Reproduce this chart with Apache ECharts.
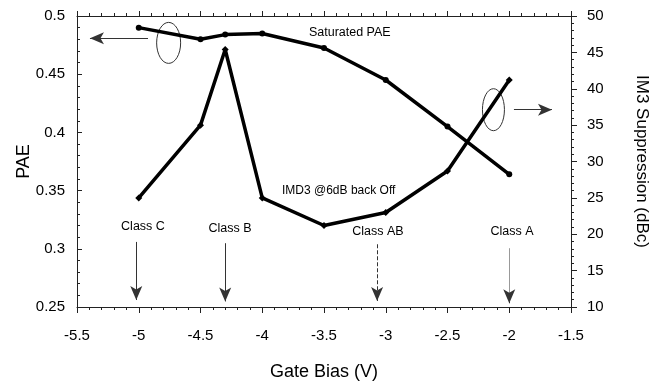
<!DOCTYPE html>
<html>
<head>
<meta charset="utf-8">
<script src="https://cdn.jsdelivr.net/npm/echarts@6/dist/echarts.min.js"></script>
<style>
  html, body { margin: 0; padding: 0; background: #fff; }
  #chart { width: 658px; height: 386px; }
</style>
</head>
<body>
<div id="chart"></div>
<script>
// Gate bias sweep (V)
const gateBias = [-5, -4.5, -4.3, -4, -3.5, -3, -2.5, -2];
// Saturated power-added efficiency (left axis)
const saturatedPAE = [0.490, 0.480, 0.484, 0.485, 0.4725, 0.445, 0.405, 0.364];
// IM3 suppression at 6 dB back-off, dBc (right axis)
const im3Suppression = [25.0, 35.0, 45.4, 25.0, 21.2, 23.0, 28.7, 41.2];

// Amplifier class markers along the bias axis
const classNames = ['Class C', 'Class B', 'Class AB', 'Class A'];
const classBias = [-5.02, -4.3, -3.07, -2.0];

const FONT = '"Liberation Sans", Arial, Helvetica, sans-serif';
const chart = echarts.init(document.getElementById('chart'), null, { renderer: 'canvas' });

const toPairs = (xs, ys) => xs.map((x, i) => [x, ys[i]]);

const axisLine = { show: true, lineStyle: { color: '#222', width: 1 } };

// arrow annotations (in PAE axis units)
const arrowLines = [
  // Class C, B, AB
  [{ coord: [classBias[0], 0.3059] }, { coord: [classBias[0], 0.2560] }],
  [{ coord: [classBias[1], 0.3048] }, { coord: [classBias[1], 0.2548] }],
  [{ coord: [classBias[2], 0.3039], lineStyle: { type: [4, 2] } }, { coord: [classBias[2], 0.2552] }],
  // Class A: grey shaft, dark head
  [{ coord: [classBias[3], 0.3005], symbol: 'none', lineStyle: { color: '#999' } }, { coord: [classBias[3], 0.2560], symbol: 'none' }],
  [{ coord: [classBias[3], 0.2600] }, { coord: [classBias[3], 0.2532] }],
  // series pointers
  [{ coord: [-4.925, 0.4809] }, { coord: [-5.395, 0.4809] }],
  [{ coord: [-1.962, 0.4195] }, { coord: [-1.654, 0.4195] }]
];

chart.setOption({
  animation: false,
  backgroundColor: '#fff',
  textStyle: { fontFamily: FONT },
  grid: { left: 77, right: 87, top: 16, bottom: 78 },
  xAxis: [
    {
      type: 'value', position: 'bottom', min: -5.5, max: -1.5, interval: 0.5,
      axisLine: axisLine,
      axisTick: { show: true, length: 6, lineStyle: { color: '#222' } },
      minorTick: { show: true, splitNumber: 5, length: 3, lineStyle: { color: '#222' } },
      splitLine: { show: false },
      axisLabel: { fontSize: 15, color: '#000', margin: 21, fontFamily: FONT },
      name: 'Gate Bias (V)', nameLocation: 'middle', nameGap: 56, nameMoveOverlap: false,
      nameTextStyle: { fontSize: 18, color: '#000', fontFamily: FONT }
    },
    {
      type: 'value', position: 'top', min: -5.5, max: -1.5, interval: 0.5,
      axisLine: axisLine,
      axisTick: { show: true, length: 5, lineStyle: { color: '#222' } },
      minorTick: { show: true, splitNumber: 5, length: 3, lineStyle: { color: '#222' } },
      splitLine: { show: false },
      axisLabel: { show: false }
    }
  ],
  yAxis: [
    {
      type: 'value', position: 'left', min: 0.25, max: 0.5, interval: 0.05,
      axisLine: axisLine,
      axisTick: { show: true, inside: true, length: 5, lineStyle: { color: '#222' } },
      minorTick: { show: true, splitNumber: 5, length: 3, lineStyle: { color: '#222' } },
      splitLine: { show: false },
      axisLabel: { fontSize: 15, color: '#000', margin: 12, fontFamily: FONT },
      name: 'PAE', nameLocation: 'middle', nameGap: 44, nameRotate: 90, nameMoveOverlap: false,
      nameTextStyle: { fontSize: 18, color: '#000', fontFamily: FONT }
    },
    {
      type: 'value', position: 'right', min: 10, max: 50, interval: 5,
      axisLine: axisLine,
      axisTick: { show: true, length: 6, lineStyle: { color: '#222' } },
      minorTick: { show: true, splitNumber: 5, length: 3, lineStyle: { color: '#222' } },
      splitLine: { show: false },
      axisLabel: { fontSize: 15, color: '#000', margin: 16, fontFamily: FONT },
      name: 'IM3 Suppression (dBc)', nameLocation: 'middle', nameGap: 62, nameRotate: -90, nameMoveOverlap: false,
      nameTextStyle: { fontSize: 17, color: '#000', fontFamily: FONT }
    }
  ],
  series: [
    {
      name: 'Saturated PAE', type: 'line', xAxisIndex: 0, yAxisIndex: 0,
      data: toPairs(gateBias, saturatedPAE),
      symbol: 'circle', symbolSize: 6,
      lineStyle: { color: '#000', width: 3.5 },
      itemStyle: { color: '#000' },
      markLine: {
        silent: true,
        symbol: ['none', 'arrow'], symbolSize: [9, 14],
        label: { show: false },
        lineStyle: { color: '#333', width: 1, type: 'solid' },
        data: arrowLines
      }
    },
    {
      name: 'IMD3 @6dB back Off', type: 'line', xAxisIndex: 0, yAxisIndex: 1,
      data: toPairs(gateBias, im3Suppression),
      symbol: 'diamond', symbolSize: 7,
      lineStyle: { color: '#000', width: 3.5 },
      itemStyle: { color: '#000' }
    }
  ]
});

// text and ellipse annotations, placed through the axes
function px(x, y) {
  return chart.convertToPixel({ xAxisIndex: 0, yAxisIndex: 0 }, [x, y]);
}
function label(text, x, y, align, size) {
  const p = px(x, y);
  return {
    type: 'text', x: p[0], y: p[1], silent: true,
    style: { text: text, font: size + 'px ' + FONT, fill: '#000', align: align, verticalAlign: 'middle' }
  };
}
function ellipse(x, y, rx, ry) {
  const p = px(x, y);
  return {
    type: 'ellipse', silent: true,
    shape: { cx: p[0], cy: p[1], rx: rx, ry: ry },
    style: { fill: 'none', stroke: '#333', lineWidth: 1 }
  };
}

const classLabelPos = [[-4.966, 0.3189], [-4.261, 0.3176], [-3.063, 0.3151], [-1.978, 0.3151]];
const elements = [
  label('Saturated PAE', -3.622, 0.4854, 'left', 12.5),
  label('IMD3 @6dB back Off', -3.84, 0.3502, 'left', 12),
  ellipse(-4.758, 0.4769, 12, 20.5),
  ellipse(-2.128, 0.4195, 11, 21)
];
classNames.forEach((n, i) => elements.push(label(n, classLabelPos[i][0], classLabelPos[i][1], 'center', 12.5)));

chart.setOption({ graphic: { elements: elements } });
</script>
</body>
</html>
